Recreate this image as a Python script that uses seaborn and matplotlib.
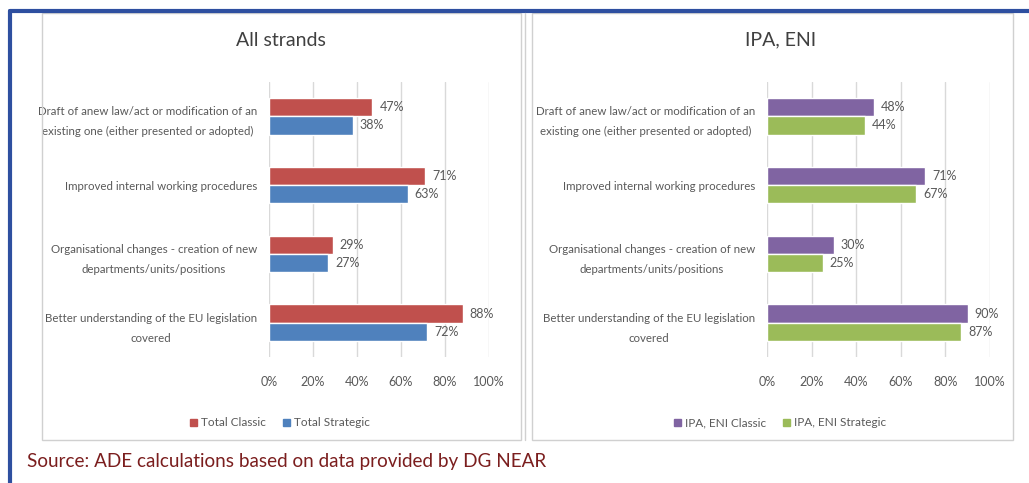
import matplotlib
matplotlib.use("Agg")
import matplotlib.pyplot as plt
from matplotlib.patches import Rectangle, Patch
from matplotlib.lines import Line2D
import seaborn as sns
import pandas as pd

categories = [
    "Draft of anew law/act or modification of an\nexisting one (either presented or adopted)",
    "Improved internal working procedures",
    "Organisational changes - creation of new\ndepartments/units/positions",
    "Better understanding of the EU legislation\ncovered",
]
left_title = "All strands"
left_series = ["Total Classic", "Total Strategic"]
left_classic = [47, 71, 29, 88]
left_strategic = [38, 63, 27, 72]

right_title = "IPA, ENI"
right_series = ["IPA, ENI Classic", "IPA, ENI Strategic"]
right_classic = [48, 71, 30, 90]
right_strategic = [44, 67, 25, 87]

x_ticks = [0, 20, 40, 60, 80, 100]
source_text = "Source: ADE calculations based on data provided by DG NEAR"

sns.set_style("white")
plt.rcParams["font.family"] = ["Lato", "DejaVu Sans"]

W, H = 1029, 483
fig = plt.figure(figsize=(W / 100, H / 100), dpi=100)

def fx(x):
    return x / W

def fy(y):
    return 1 - y / H

# outer blue frame (top and left edges)
fig.add_artist(Line2D([fx(10), fx(1029)], [fy(11), fy(11)], color="#2E4FA0", lw=3, transform=fig.transFigure))
fig.add_artist(Line2D([fx(10), fx(10)], [fy(11), fy(483)], color="#2E4FA0", lw=3, transform=fig.transFigure))

# panel boxes
for (x0, x1) in [(42, 521), (532, 1013)]:
    fig.add_artist(Rectangle((fx(x0), fy(440)), fx(x1 - x0), (440 - 13) / H,
                             fill=False, ec="#D0D0D0", lw=1, transform=fig.transFigure))
fig.add_artist(Line2D([fx(525), fx(525)], [fy(13), fy(440)], color="#D0D0D0", lw=1, transform=fig.transFigure))

grey = "#595959"

def panel(x0, x1, title, title_x, series, classic, strategic, colors, legend_x):
    ax = fig.add_axes([fx(x0), fy(357), fx(x1 - x0), (357 - 82) / H])
    df = pd.DataFrame({
        "category": categories * 2,
        "value": classic + strategic,
        "series": [series[0]] * len(categories) + [series[1]] * len(categories),
    })
    sns.barplot(data=df, x="value", y="category", hue="series", orient="h",
                palette=colors, width=0.53, ax=ax, legend=False, saturation=1)
    ax.set_xlim(0, 100)
    ax.set_ylim(3.5, -0.5)
    ax.set_xticks(x_ticks)
    ax.set_xticklabels([f"{t}%" for t in x_ticks], color=grey, fontsize=9)
    ax.tick_params(axis="x", length=0, pad=14)
    ax.tick_params(axis="y", length=0, pad=8.5)
    for lab in ax.get_yticklabels():
        lab.set_color(grey)
        lab.set_fontsize(8.3)
        lab.set_linespacing(2.0)
        lab.set_multialignment("center")
    ax.set_xlabel("")
    ax.set_ylabel("")
    ax.grid(axis="x", color="#D9D9D9", lw=1)
    ax.set_axisbelow(True)
    for s in ax.spines.values():
        s.set_visible(False)
    for cont in ax.containers:
        ax.bar_label(cont, fmt="%d%%", padding=5, color=grey, fontsize=9)
    fig.text(fx(title_x), fy(40), title, ha="center", va="center", fontsize=14, color="#404040")
    handles = [Patch(color=colors[0], label=series[0]), Patch(color=colors[1], label=series[1])]
    fig.legend(handles=handles, loc="center", bbox_to_anchor=(fx(legend_x), fy(423)), ncol=2,
               frameon=False, handlelength=0.6, handleheight=0.6, handletextpad=0.3,
               columnspacing=1.5, prop={"size": 8.5}, labelcolor=grey)
    return ax

axl = panel(269, 489, left_title, 281, left_series, left_classic, left_strategic,
            ["#C0504D", "#4F81BD"], 280)
axr = panel(767, 990, right_title, 781, right_series, right_classic, right_strategic,
            ["#8064A2", "#9BBB59"], 780)

fig.text(fx(27), fy(461), source_text, ha="left", va="center", fontsize=13.6,
         color="#7B1E1E", family=["Lato", "DejaVu Sans"])

fig.savefig("out.png", dpi=100)
